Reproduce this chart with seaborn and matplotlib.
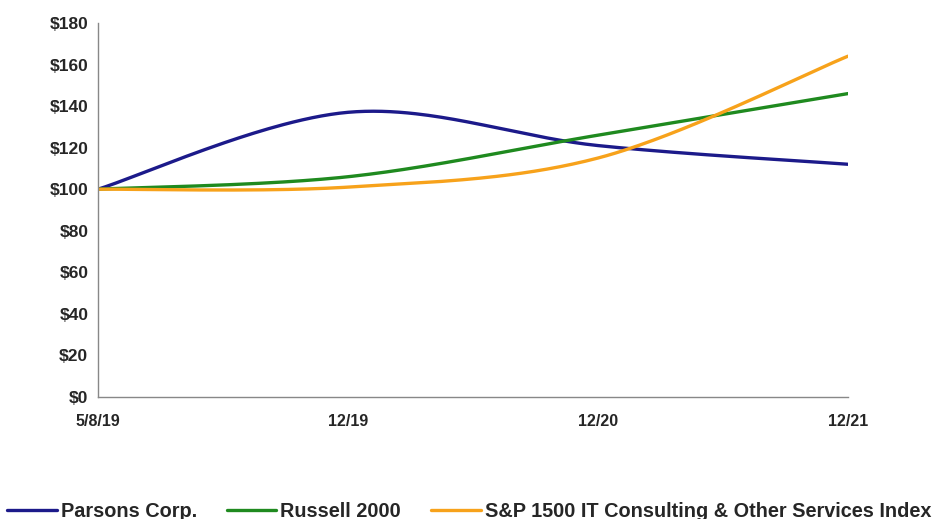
import numpy as np
import pandas as pd
import matplotlib
matplotlib.use("Agg")
import matplotlib.pyplot as plt
import seaborn as sns

# Cumulative total return, $100 invested
periods = ["5/8/19", "12/19", "12/20", "12/21"]
parsons = [100, 137, 121, 112]
russell = [100, 106, 126, 146]
sp1500_it = [100, 101, 115, 164]

series = {
    "Parsons Corp.": parsons,
    "Russell 2000": russell,
    "S&P 1500 IT Consulting & Other Services Index": sp1500_it,
}
colors = ["#1c1a8a", "#1f8a1f", "#f7a21b"]


def smooth(y, n=60):
    # Excel-style smoothed line (Catmull-Rom Bezier between the points)
    y = np.asarray(y, dtype=float)
    x = np.arange(len(y), dtype=float)
    pts = np.column_stack([x, y])
    ext = np.vstack([pts[0], pts, pts[-1]])
    out = []
    t = np.linspace(0, 1, n)[:, None]
    for i in range(len(pts) - 1):
        p0, p1, p2, p3 = ext[i], ext[i + 1], ext[i + 2], ext[i + 3]
        c1 = p1 + (p2 - p0) / 6
        c2 = p2 - (p3 - p1) / 6
        seg = ((1 - t) ** 3) * p1 + 3 * ((1 - t) ** 2) * t * c1 + 3 * (1 - t) * t ** 2 * c2 + t ** 3 * p2
        out.append(seg if i == 0 else seg[1:])
    out = np.vstack(out)
    return out[:, 0], out[:, 1]


sns.set_style("white")
plt.rcParams["font.family"] = ["Liberation Sans", "DejaVu Sans"]

fig = plt.figure(figsize=(9.38, 5.19), dpi=100)
ax = fig.add_axes([0.1045, 0.235, 0.7995, 0.7208])

for (name, vals), c in zip(series.items(), colors):
    xs, ys = smooth(vals)
    sns.lineplot(x=xs, y=ys, sort=False, ax=ax, color=c, linewidth=2.4, label=name)

ax.set_xlim(0, len(periods) - 1)
ax.set_ylim(0, 180)
ax.set_yticks(range(0, 181, 20))
ax.set_yticklabels([f"${v}" for v in range(0, 181, 20)], fontsize=12.5, fontweight="bold")
ax.set_xticks(range(len(periods)))
ax.set_xticklabels(periods, fontsize=11.5, fontweight="bold")
ax.tick_params(axis="y", direction="out", length=4, color="#888888", pad=3)
ax.tick_params(axis="x", direction="in", length=4, color="#888888", pad=12)
for s in ["top", "right"]:
    ax.spines[s].set_visible(False)
for s in ["left", "bottom"]:
    ax.spines[s].set_color("#888888")
    ax.spines[s].set_linewidth(1)

ax.legend_.remove()
handles, labels = ax.get_legend_handles_labels()
fig.legend(handles, labels, loc="lower center", bbox_to_anchor=(0.5, -0.038), ncol=3,
           frameon=False, handlelength=2.5, handletextpad=0.2,
           columnspacing=1.5, prop={"weight": "bold", "size": 14.3})

fig.savefig("out.png", dpi=100)
